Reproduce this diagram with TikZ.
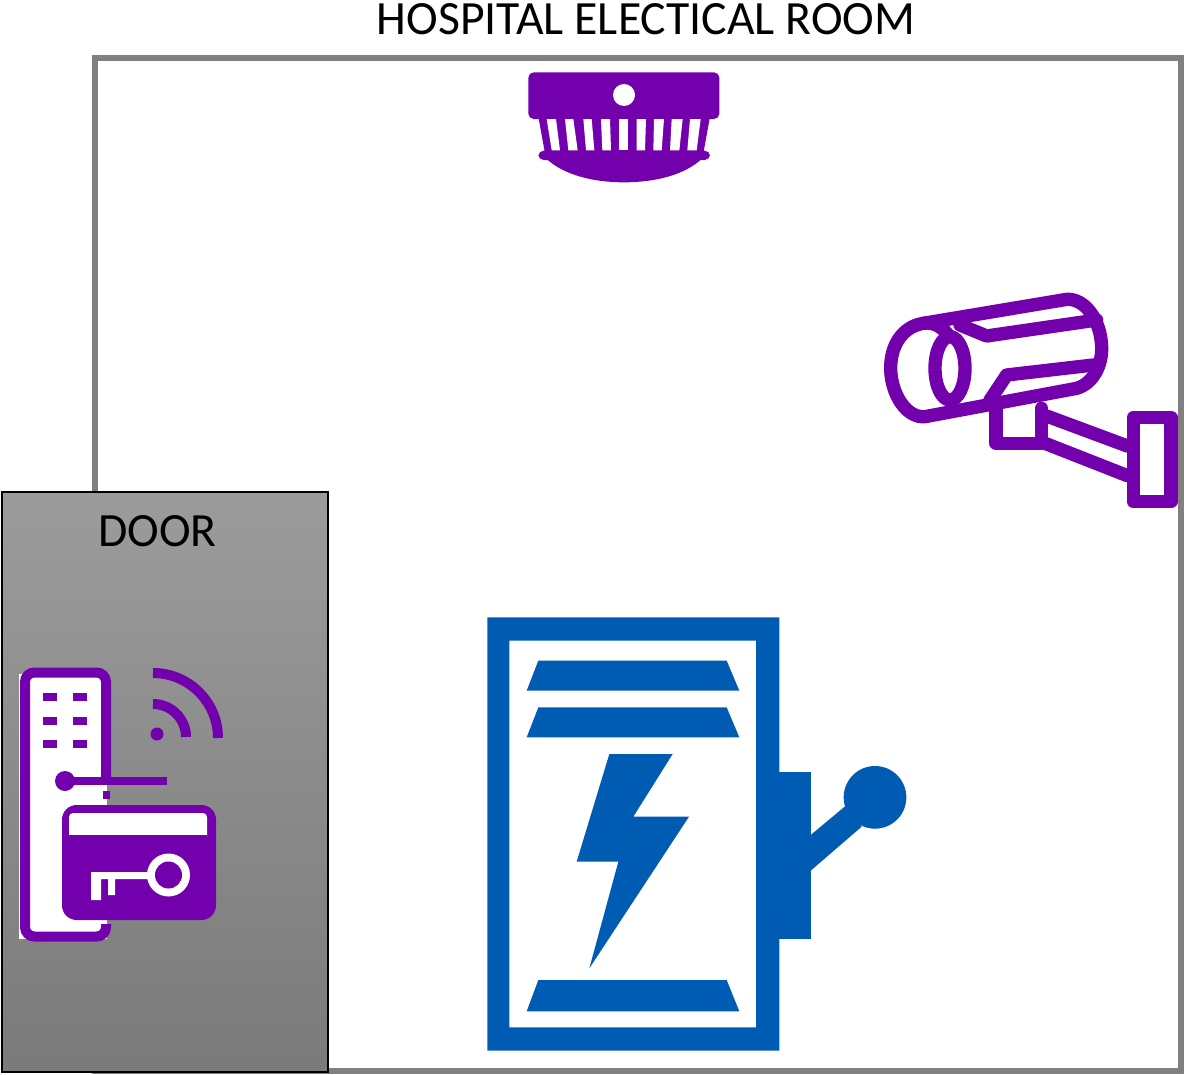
\documentclass[tikz,border=0pt]{standalone}
\usepackage{fontspec}
\setmainfont{Carlito}
\definecolor{roomgray}{HTML}{808080}
\definecolor{iconpurple}{HTML}{7200AC}
\definecolor{panelblue}{HTML}{005BB2}
\tikzset{
  label text/.style={font=\fontsize{35.8pt}{38pt}\selectfont,inner sep=0pt,text=black},
  camline/.style={draw=iconpurple,line width=10pt,line join=round,line cap=round},
  lockline/.style={draw=iconpurple,line width=7.5pt},
}
\begin{document}
\begin{tikzpicture}[x=.75pt,y=-.75pt]
\useasboundingbox (0,0) rectangle (1184,1074);
% room
\draw[roomgray,line width=4.5pt] (95,58) rectangle (1181,1071);
\node[label text] (roomtitle) at (646,19) {HOSPITAL ELECTICAL ROOM};
% door
\shade[top color=black!39,bottom color=black!52] (2,492) rectangle (328,1072);
\draw[black,line width=1.1pt] (2,492) rectangle (328,1072);
\node[label text] (doorlabel) at (157.5,531) {DOOR};
% lock
\fill[white] (19,674) rectangle (107,939);
\draw[lockline,rounded corners=7pt] (106,781) -- (106,672.5) -- (25,672.5) -- (25,936.5) -- (106,936.5) -- (106,924);
\foreach \yy in {693,717,740}{
  \fill[iconpurple] (43,\yy) rectangle (57,\yy+8);
  \fill[iconpurple] (73,\yy) rectangle (87,\yy+8);
}
\fill[iconpurple] (65,781) circle[radius=10];
\fill[iconpurple] (65,777) rectangle (167,785);
\fill[iconpurple] (103,791) rectangle (110,799);
% wifi
\fill[iconpurple] (157,734) circle[radius=6.5];
\draw[lockline] (153,704) arc[start angle=270,end angle=360,radius=33];
\draw[lockline] (153,673) arc[start angle=270,end angle=360,radius=65];
% card
\fill[iconpurple,rounded corners=11pt] (62,805) rectangle (216,920);
\fill[white,rounded corners=3pt] (69,813) -- (207,813) -- (207,841) -- (69,841) -- cycle;
\fill[iconpurple] (69,835) rectangle (207,842);
\fill[white] (168.5,875) circle[radius=21.5];
\fill[iconpurple] (168.5,875) circle[radius=13.5];
\fill[white] (91,872) -- (150,872) -- (150,879) -- (115,879) -- (115,895) -- (108,895) -- (108,879) -- (101,879) -- (101,900) -- (91,900) -- cycle;
% smoke detector
\begin{scope}[shift={(510,60)},x=.25pt,y=-.25pt]
  \fill[iconpurple,rounded corners=4pt] (55,37) rectangle (628,177);
  \fill[white] (342,105) circle[radius=33];
  \fill[iconpurple] (85,170) -- (600,170) -- (580,280) -- (105,280) -- cycle;
  \fill[iconpurple,rounded corners=4pt] (85,272) rectangle (600,300);
  \fill[iconpurple] (108,295) .. controls (160,345) and (250,367) .. (342,367) .. controls (435,367) and (525,345) .. (577,295) -- cycle;
  \foreach \ta/\tb/\ba/\bb in {110/138/125/150,165/190/175/203,220/245/228/253,273/300/277/303,328/355/328/355,380/408/380/405,432/462/430/455,485/518/480/508,540/572/532/560}{
    \fill[white] (\ta,177) -- (\tb,177) -- (\bb,271) -- (\ba,271) -- cycle;
  }
\end{scope}
% camera
\begin{scope}[shift={(870,280)},x=.25pt,y=-.25pt]
  \draw[camline] (590,58) -- (160,130) .. controls (95,140) and (60,200) .. (62,270) .. controls (65,345) and (110,415) .. (165,410) -- (620,325) .. controls (670,310) and (697,255) .. (695,200) .. controls (692,120) and (645,55) .. (590,58);
  \draw[camline] (160,130) .. controls (190,125) and (215,140) .. (235,165);
  \draw[camline] (240,265) ellipse[x radius=45,y radius=95];
  \draw[camline] (270,135) -- (350,168) -- (680,120);
  \draw[camline] (670,255) -- (410,285) -- (360,360);
  \draw[camline] (378,385) -- (378,490) -- (515,490) -- (515,385);
  \draw[camline] (530,408) -- (772,498);
  \draw[camline] (525,490) -- (772,587);
  \draw[camline] (790,412) rectangle (903,665);
\end{scope}
% electrical panel
\begin{scope}[shift={(470,600)},x=.25pt,y=-.25pt]
  \fill[panelblue,even odd rule] (52,52) rectangle (928,1352) (118,122) rectangle (858,1282);
  \fill[panelblue] (205,182) -- (770,182) -- (808,272) -- (170,272) -- cycle;
  \fill[panelblue] (205,322) -- (770,322) -- (808,412) -- (170,412) -- cycle;
  \fill[panelblue] (205,1140) -- (770,1140) -- (808,1234) -- (170,1234) -- cycle;
  \fill[panelblue] (418,462) -- (608,462) -- (490,650) -- (657,650) -- (358,1105) -- (445,785) -- (320,785) -- cycle;
  \fill[panelblue] (928,515) rectangle (1022,1018);
  \fill[panelblue] (1022,705) -- (1130,615) -- (1175,680) -- (1022,812) -- cycle;
  \fill[panelblue] (1215,592) circle[radius=94];
\end{scope}
\end{tikzpicture}
\end{document}
